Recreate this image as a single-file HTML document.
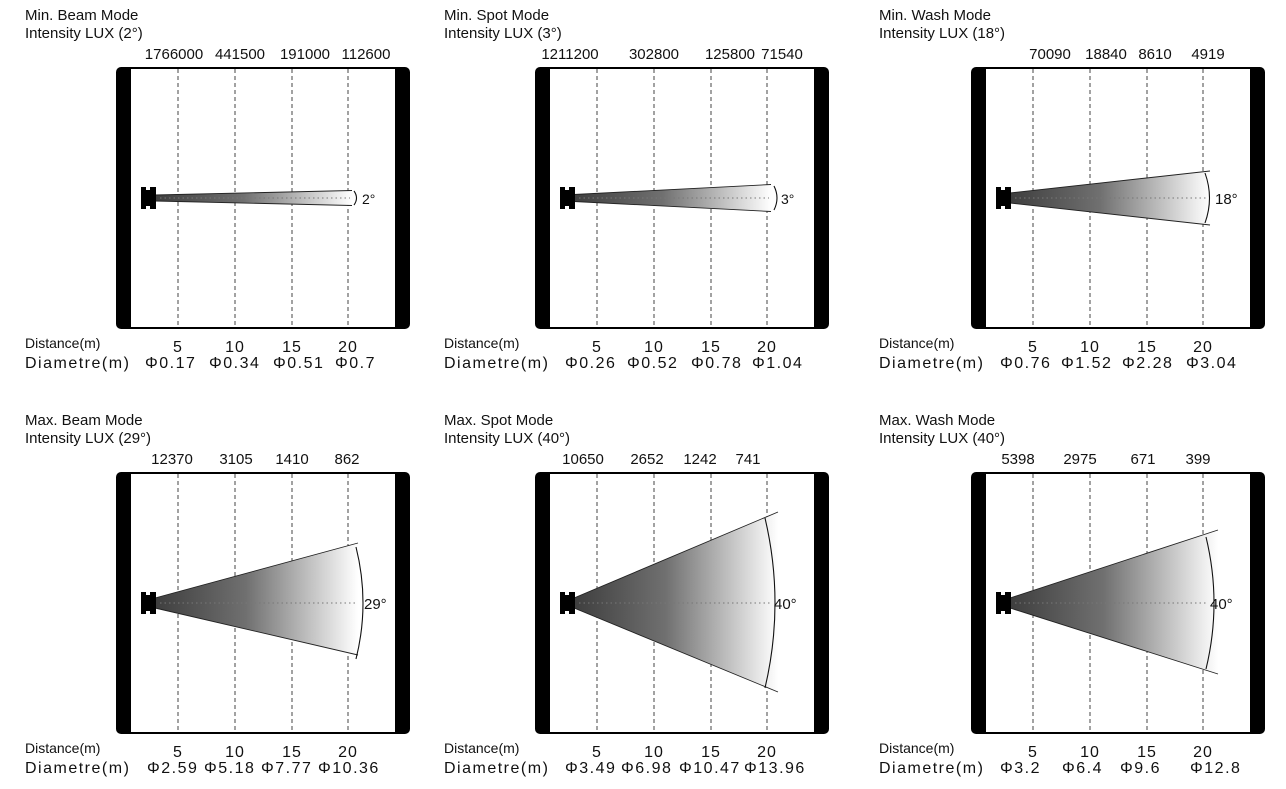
<!DOCTYPE html>
<html><head><meta charset="utf-8"><style>
html,body{margin:0;padding:0;background:#fff;}
svg{display:block;font-family:"Liberation Sans",sans-serif;}
.t{font-size:15px;fill:#111;}
.n{font-size:15px;fill:#111;text-anchor:middle;}
.d{font-size:14px;fill:#111;}
.dv{font-size:16px;fill:#111;text-anchor:middle;letter-spacing:1px;}
.dm{font-size:16px;fill:#111;letter-spacing:1.5px;}
.dash{stroke:#444;stroke-width:1;stroke-dasharray:4 3;}
.cl{stroke:#777;stroke-width:1;stroke-dasharray:1.5 3;}
.ar{fill:none;stroke:#111;stroke-width:1.1;}
.ed{stroke:#222;stroke-width:0.9;}
</style></head><body>
<svg width="1286" height="789" viewBox="0 0 1286 789" xmlns="http://www.w3.org/2000/svg">
<defs>
<linearGradient id="g" x1="0" y1="0" x2="1" y2="0">
<stop offset="0" stop-color="#3e3e3e"/><stop offset="0.45" stop-color="#707070"/><stop offset="1" stop-color="#ffffff"/>
</linearGradient>
<g id="frame">
<rect x="116" y="67" width="294" height="262" rx="5" fill="#000"/>
<rect x="131" y="69" width="264" height="258" fill="#fff"/>
<line class="dash" x1="178" y1="69" x2="178" y2="327"/>
<line class="dash" x1="235" y1="69" x2="235" y2="327"/>
<line class="dash" x1="292" y1="69" x2="292" y2="327"/>
<line class="dash" x1="348" y1="69" x2="348" y2="327"/>
</g>
<g id="fx">
<rect x="141" y="-11" width="15" height="22" fill="#000"/>
<rect x="146" y="-11" width="4" height="3" fill="#fff"/>
<rect x="146" y="8" width="4" height="3" fill="#fff"/>
</g>
</defs>

<!-- Panel 1 -->
<g>
<use href="#frame"/>
<polygon points="155,195 352,190.5 352,205.5 155,201" fill="url(#g)"/>
<line class="ed" x1="155" y1="195" x2="352" y2="190.5"/><line class="ed" x1="155" y1="201" x2="352" y2="205.5"/>
<line class="cl" x1="160" y1="198" x2="350" y2="198"/>
<use href="#fx" transform="translate(0,198)"/>
<path class="ar" d="M354,191 Q359,198 354,205"/>
<text class="t" x="362" y="204" style="font-size:14px">2°</text>
<text class="t" x="25" y="20">Min. Beam Mode</text>
<text class="t" x="25" y="38">Intensity LUX (2°)</text>
<text class="n" x="174" y="59">1766000</text><text class="n" x="240" y="59">441500</text><text class="n" x="305" y="59">191000</text><text class="n" x="366" y="59">112600</text>
<text class="d" x="25" y="348">Distance(m)</text>
<text class="dv" x="178" y="352">5</text><text class="dv" x="235" y="352">10</text><text class="dv" x="292" y="352">15</text><text class="dv" x="348" y="352">20</text>
<text class="dm" x="25" y="368">Diametre(m)</text>
<text class="dm" x="145" y="368">Φ0.17</text><text class="dm" x="209" y="368">Φ0.34</text><text class="dm" x="273" y="368">Φ0.51</text><text class="dm" x="335" y="368">Φ0.7</text>
</g>

<!-- Panel 2 -->
<g transform="translate(419,0)">
<use href="#frame"/>
<polygon points="155,194.5 352,184.5 352,211.5 155,201.5" fill="url(#g)"/>
<line class="ed" x1="155" y1="194.5" x2="352" y2="184.5"/><line class="ed" x1="155" y1="201.5" x2="352" y2="211.5"/>
<line class="cl" x1="160" y1="198" x2="350" y2="198"/>
<use href="#fx" transform="translate(0,198)"/>
<path class="ar" d="M355,186 Q361,198 355,210"/>
<text class="t" x="362" y="204" style="font-size:14px">3°</text>
</g>
<text class="t" x="444" y="20">Min. Spot Mode</text>
<text class="t" x="444" y="38">Intensity LUX (3°)</text>
<text class="n" x="570" y="59">1211200</text><text class="n" x="654" y="59">302800</text><text class="n" x="730" y="59">125800</text><text class="n" x="782" y="59">71540</text>
<text class="d" x="444" y="348">Distance(m)</text>
<text class="dv" x="597" y="352">5</text><text class="dv" x="654" y="352">10</text><text class="dv" x="711" y="352">15</text><text class="dv" x="767" y="352">20</text>
<text class="dm" x="444" y="368">Diametre(m)</text>
<text class="dm" x="565" y="368">Φ0.26</text><text class="dm" x="627" y="368">Φ0.52</text><text class="dm" x="691" y="368">Φ0.78</text><text class="dm" x="752" y="368">Φ1.04</text>

<!-- Panel 3 -->
<g transform="translate(855,0)">
<use href="#frame"/>
<polygon points="155,193 355,171 355,225 155,203" fill="url(#g)"/>
<line class="ed" x1="155" y1="193" x2="355" y2="171"/><line class="ed" x1="155" y1="203" x2="355" y2="225"/>
<line class="cl" x1="160" y1="198" x2="352" y2="198"/>
<use href="#fx" transform="translate(0,198)"/>
<path class="ar" d="M350,173 Q359,198 350,223"/>
<text class="t" x="360" y="204">18°</text>
</g>
<text class="t" x="879" y="20">Min. Wash Mode</text>
<text class="t" x="879" y="38">Intensity LUX (18°)</text>
<text class="n" x="1050" y="59">70090</text><text class="n" x="1106" y="59">18840</text><text class="n" x="1155" y="59">8610</text><text class="n" x="1208" y="59">4919</text>
<text class="d" x="879" y="348">Distance(m)</text>
<text class="dv" x="1033" y="352">5</text><text class="dv" x="1090" y="352">10</text><text class="dv" x="1147" y="352">15</text><text class="dv" x="1203" y="352">20</text>
<text class="dm" x="879" y="368">Diametre(m)</text>
<text class="dm" x="1000" y="368">Φ0.76</text><text class="dm" x="1061" y="368">Φ1.52</text><text class="dm" x="1122" y="368">Φ2.28</text><text class="dm" x="1186" y="368">Φ3.04</text>

<!-- Panel 4 -->
<g transform="translate(0,405)">
<use href="#frame"/>
<polygon points="155,193 358,138 358,250 155,203" fill="url(#g)"/>
<line class="ed" x1="155" y1="193" x2="358" y2="138"/><line class="ed" x1="155" y1="203" x2="358" y2="250"/>
<line class="cl" x1="160" y1="198" x2="355" y2="198"/>
<use href="#fx" transform="translate(0,198)"/>
<path class="ar" d="M356,142 Q370,198 356,254"/>
<text class="t" x="364" y="204">29°</text>
</g>
<text class="t" x="25" y="425">Max. Beam Mode</text>
<text class="t" x="25" y="443">Intensity LUX (29°)</text>
<text class="n" x="172" y="464">12370</text><text class="n" x="236" y="464">3105</text><text class="n" x="292" y="464">1410</text><text class="n" x="347" y="464">862</text>
<text class="d" x="25" y="753">Distance(m)</text>
<text class="dv" x="178" y="757">5</text><text class="dv" x="235" y="757">10</text><text class="dv" x="292" y="757">15</text><text class="dv" x="348" y="757">20</text>
<text class="dm" x="25" y="773">Diametre(m)</text>
<text class="dm" x="147" y="773">Φ2.59</text><text class="dm" x="204" y="773">Φ5.18</text><text class="dm" x="261" y="773">Φ7.77</text><text class="dm" x="318" y="773">Φ10.36</text>

<!-- Panel 5 -->
<g transform="translate(419,405)">
<use href="#frame"/>
<polygon points="155,193 359,107 359,287 155,203" fill="url(#g)"/>
<line class="ed" x1="155" y1="193" x2="359" y2="107"/><line class="ed" x1="155" y1="203" x2="359" y2="287"/>
<line class="cl" x1="160" y1="198" x2="352" y2="198"/>
<use href="#fx" transform="translate(0,198)"/>
<path class="ar" d="M346,113 Q366,198 346,283"/>
<text class="t" x="355" y="204">40°</text>
</g>
<text class="t" x="444" y="425">Max. Spot Mode</text>
<text class="t" x="444" y="443">Intensity LUX (40°)</text>
<text class="n" x="583" y="464">10650</text><text class="n" x="647" y="464">2652</text><text class="n" x="700" y="464">1242</text><text class="n" x="748" y="464">741</text>
<text class="d" x="444" y="753">Distance(m)</text>
<text class="dv" x="597" y="757">5</text><text class="dv" x="654" y="757">10</text><text class="dv" x="711" y="757">15</text><text class="dv" x="767" y="757">20</text>
<text class="dm" x="444" y="773">Diametre(m)</text>
<text class="dm" x="565" y="773">Φ3.49</text><text class="dm" x="621" y="773">Φ6.98</text><text class="dm" x="679" y="773">Φ10.47</text><text class="dm" x="744" y="773">Φ13.96</text>

<!-- Panel 6 -->
<g transform="translate(855,405)">
<use href="#frame"/>
<polygon points="155,193 363,125 363,269 155,203" fill="url(#g)"/>
<line class="ed" x1="155" y1="193" x2="363" y2="125"/><line class="ed" x1="155" y1="203" x2="363" y2="269"/>
<line class="cl" x1="160" y1="198" x2="352" y2="198"/>
<use href="#fx" transform="translate(0,198)"/>
<path class="ar" d="M351,132 Q367,198 351,264"/>
<text class="t" x="355" y="204">40°</text>
</g>
<text class="t" x="879" y="425">Max. Wash Mode</text>
<text class="t" x="879" y="443">Intensity LUX (40°)</text>
<text class="n" x="1018" y="464">5398</text><text class="n" x="1080" y="464">2975</text><text class="n" x="1143" y="464">671</text><text class="n" x="1198" y="464">399</text>
<text class="d" x="879" y="753">Distance(m)</text>
<text class="dv" x="1033" y="757">5</text><text class="dv" x="1090" y="757">10</text><text class="dv" x="1147" y="757">15</text><text class="dv" x="1203" y="757">20</text>
<text class="dm" x="879" y="773">Diametre(m)</text>
<text class="dm" x="1000" y="773">Φ3.2</text><text class="dm" x="1062" y="773">Φ6.4</text><text class="dm" x="1120" y="773">Φ9.6</text><text class="dm" x="1190" y="773">Φ12.8</text>
</svg>
</body></html>
